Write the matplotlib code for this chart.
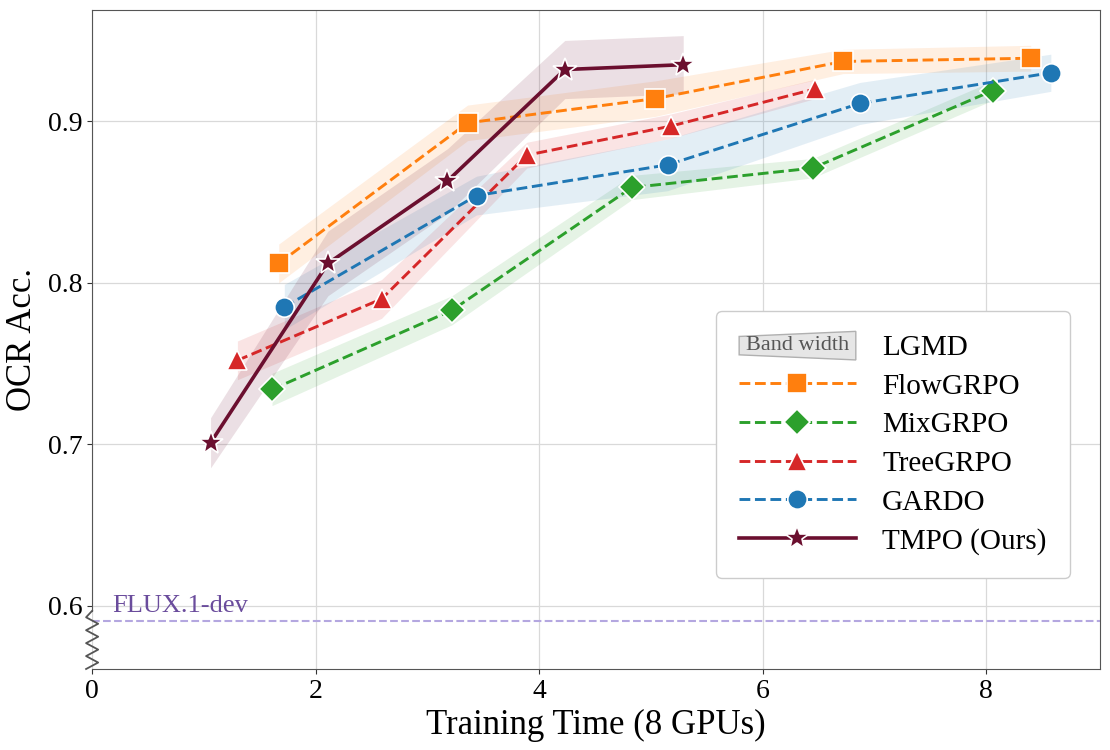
import numpy as np
import matplotlib
matplotlib.use("Agg")
import matplotlib.pyplot as plt
import matplotlib.transforms as mtransforms
from matplotlib.patches import Polygon

plt.rcParams['font.family'] = ['Liberation Serif', 'DejaVu Serif']

# Training time (x) and OCR accuracy (y), band half-width (LGMD)
flow_x = [1.67, 3.36, 5.04, 6.72, 8.40]
flow_y = [0.812, 0.899, 0.914, 0.937, 0.939]
flow_w = [0.012, 0.011, 0.011, 0.0075, 0.008]

mix_x = [1.61, 3.22, 4.83, 6.45, 8.06]
mix_y = [0.734, 0.783, 0.859, 0.871, 0.919]
mix_w = [0.010, 0.009, 0.0075, 0.006, 0.006]

tree_x = [1.30, 2.59, 3.89, 5.18, 6.47]
tree_y = [0.752, 0.790, 0.879, 0.897, 0.920]
tree_w = [0.012, 0.012, 0.008, 0.0075, 0.006]

gardo_x = [1.72, 3.44, 5.15, 6.87, 8.58]
gardo_y = [0.785, 0.854, 0.873, 0.911, 0.930]
gardo_w = [0.014, 0.012, 0.016, 0.013, 0.0115]

tmpo_x = [1.06, 2.11, 3.18, 4.23, 5.29]
tmpo_y = [0.701, 0.812, 0.863, 0.932, 0.935]
tmpo_w = [0.0155, 0.02, 0.02, 0.018, 0.018]

flux_y = 0.591

series = [
    ("FlowGRPO", flow_x, flow_y, flow_w, "#ff7f0e", "s", "--", 14),
    ("MixGRPO", mix_x, mix_y, mix_w, "#2ca02c", "D", "--", 13),
    ("TreeGRPO", tree_x, tree_y, tree_w, "#d62728", "^", "--", 14),
    ("GARDO", gardo_x, gardo_y, gardo_w, "#1f77b4", "o", "--", 14),
    ("TMPO (Ours)", tmpo_x, tmpo_y, tmpo_w, "#6b0f2f", "*", "-", 18),
]

fig = plt.figure(figsize=(11.1, 7.5), dpi=100)
ax = fig.add_axes([0.083, 0.108, 0.908, 0.879])

handles = []
for name, xs, ys, ws, c, m, ls, ms in series:
    xs = np.array(xs)
    ys = np.array(ys)
    ws = np.array(ws)
    alpha = 0.13 if name.startswith("TMPO") else 0.12
    ax.fill_between(xs, ys - ws, ys + ws, color=c, alpha=alpha, lw=0, zorder=1)
    lw = 2.6 if ls == "-" else 2.1
    h, = ax.plot(xs, ys, ls=ls, color=c, lw=lw, marker=m, markersize=ms,
                 markeredgecolor="white", markeredgewidth=1.2, zorder=3, label=name)
    handles.append(h)

ax.axhline(flux_y, color="#b4a7e0", ls="--", lw=1.5, zorder=2)
ax.text(0.18, flux_y + 0.002, "FLUX.1-dev", color="#6a4c9c", fontsize=19,
        va="bottom", ha="left")

ax.set_xlim(0, 9.02)
ax.set_ylim(0.561, 0.969)
ax.set_xticks([0, 2, 4, 6, 8])
ax.set_yticks([0.6, 0.7, 0.8, 0.9])
ax.tick_params(labelsize=20, color="#333333")
ax.grid(True, color="#d9d9d9", lw=0.9)
ax.set_axisbelow(True)
ax.set_xlabel("Training Time (8 GPUs)", fontsize=25, labelpad=4)
ax.set_ylabel("OCR Acc.", fontsize=25, labelpad=6)
for s in ax.spines.values():
    s.set_color("#555555")

# broken axis zigzag
ax.spines['left'].set_bounds(0.597, 0.969)
trans = mtransforms.blended_transform_factory(ax.transAxes, ax.transData)
zz_y = np.linspace(0.597, 0.561, 10)
zz_x = [0.0 if i == 0 else (-0.006 if i % 2 else 0.006) for i in range(len(zz_y))]
ax.plot(zz_x, zz_y, color="#555555", lw=1.3, clip_on=False, zorder=5,
        transform=trans)


class BandHandler:
    def legend_artist(self, legend, orig_handle, fontsize, handlebox):
        x0, y0 = handlebox.xdescent, handlebox.ydescent
        w, h = handlebox.width, handlebox.height
        poly = Polygon([[x0, y0 + h * 0.0], [x0 + w, y0 - h * 0.25],
                        [x0 + w, y0 + h * 1.15], [x0, y0 + h * 0.9]],
                       closed=True, facecolor="#e6e6e6", edgecolor="#b0b0b0",
                       lw=1.0, transform=handlebox.get_transform())
        handlebox.add_artist(poly)
        txt = plt.Text(x0 + w / 2, y0 + h * 0.45, "Band width", ha="center",
                       va="center", fontsize=16, color="#555555",
                       transform=handlebox.get_transform())
        handlebox.add_artist(txt)
        return poly


band_handle = object()
leg = ax.legend([band_handle] + handles, ["LGMD"] + [s[0] for s in series],
                handler_map={object: BandHandler()}, loc="lower right",
                bbox_to_anchor=(0.970, 0.138), borderaxespad=0,
                fontsize=21, handlelength=4.0,
                handletextpad=0.9, labelspacing=0.42, borderpad=0.8,
                framealpha=1, edgecolor="#cccccc", fancybox=True)

fig.savefig("out.png", dpi=100)
